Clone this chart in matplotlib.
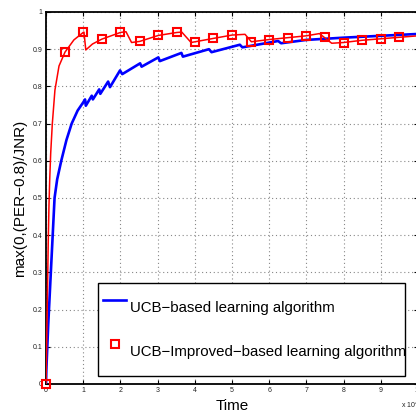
import matplotlib
matplotlib.use("Agg")
import matplotlib.pyplot as plt

plt.rcParams['font.family'] = ['Liberation Sans', 'DejaVu Sans']

# ---- data ----
blue_x = [0, 0.01, 0.035, 0.06, 0.08, 0.13, 0.18, 0.23, 0.3, 0.41, 0.55, 0.69, 0.85,
          1.0, 1.05, 1.07, 1.23, 1.26, 1.43, 1.46, 1.67, 1.72, 1.99, 2.05, 2.53, 2.57,
          3.02, 3.06, 3.64, 3.68, 4.38, 4.45, 5.21, 5.28, 6.24, 6.32, 7.0, 8.0, 9.0, 10.0]
blue_y = [0, 0.04, 0.1, 0.16, 0.2, 0.3, 0.4, 0.5, 0.55, 0.6, 0.656, 0.70, 0.735,
          0.757, 0.765, 0.748, 0.775, 0.765, 0.792, 0.78, 0.813, 0.798, 0.843, 0.833, 0.862, 0.853,
          0.878, 0.868, 0.890, 0.880, 0.900, 0.892, 0.912, 0.905, 0.922, 0.916, 0.925, 0.931, 0.936, 0.941]

red_x = [0, 0.01, 0.02, 0.04, 0.06, 0.08, 0.1, 0.126, 0.17, 0.24, 0.35, 0.51, 0.75, 1.0, 1.02,
         1.07, 1.25, 1.5, 2.0, 2.15, 2.3, 2.52, 3.02, 3.52, 3.65, 3.9, 4.01, 4.5, 5.0, 5.35,
         5.52, 6.0, 6.5, 7.0, 7.35, 7.68, 8.0, 8.5, 9.0, 9.5, 10.0]
red_y = [0, 0.05, 0.12, 0.25, 0.38, 0.48, 0.55, 0.62, 0.7, 0.79, 0.855, 0.892, 0.925, 0.945, 0.946,
         0.898, 0.914, 0.927, 0.945, 0.947, 0.918, 0.921, 0.937, 0.945, 0.946, 0.918, 0.920, 0.929, 0.938, 0.940,
         0.920, 0.926, 0.931, 0.936, 0.942, 0.916, 0.918, 0.924, 0.928, 0.932, 0.936]

mark_x = [0, 0.51, 1.0, 1.5, 2.0, 2.52, 3.02, 3.52, 4.01, 4.5, 5.0, 5.5, 6.0, 6.5, 7.0, 7.5,
          8.0, 8.5, 9.0, 9.49]
mark_y = [0, 0.892, 0.945, 0.927, 0.945, 0.921, 0.937, 0.945, 0.920, 0.929, 0.938, 0.920,
          0.926, 0.931, 0.936, 0.934, 0.918, 0.924, 0.927, 0.932]

x_ticks = list(range(0, 11))
y_ticks = [0, 0.1, 0.2, 0.3, 0.4, 0.5, 0.6, 0.7, 0.8, 0.9, 1.0]
y_tick_labels = ['0', '0.1', '0.2', '0.3', '0.4', '0.5', '0.6', '0.7', '0.8', '0.9', '1']

label_blue = 'UCB\u2212based learning algorithm'
label_red = 'UCB\u2212Improved\u2212based learning algorithm'

# ---- figure ----
W, H = 416, 412
fig = plt.figure(figsize=(W / 100, H / 100), dpi=100)
ax = fig.add_axes([46 / W, (H - 384) / H, (418 - 46) / W, (384 - 12) / H])

ax.plot(blue_x, blue_y, color='#0000ff', lw=1.9, label=label_blue, zorder=3)
ax.plot(red_x, red_y, color='#ff0000', lw=1.1, zorder=4)
ax.plot(mark_x, mark_y, ls='none', marker='s', ms=6, mfc='none', mec='#ff0000', mew=1.5,
        label=label_red, zorder=5, clip_on=False)

ax.set_xlim(0, 10)
ax.set_ylim(0, 1)
ax.set_xticks(x_ticks)
ax.set_xticklabels([str(t) for t in x_ticks])
ax.set_yticks(y_ticks)
ax.set_yticklabels(y_tick_labels)
ax.tick_params(direction='in', top=True, right=True, labelsize=5, length=3, width=0.8,
               pad=2.5, labelcolor='#222222')
ax.grid(True, ls=(0, (1, 2.5)), color='#888888', lw=0.8)
for s in ax.spines.values():
    s.set_linewidth(1.3)

ax.set_xlabel('Time', fontsize=11, labelpad=3)
ax.set_ylabel('max(0,(PER\u22120.8)/JNR)', fontsize=11, labelpad=4)

fig.text(401 / W, (H - 405) / H, 'x 10$^4$', fontsize=5, ha='left', va='center', color='#222222')

leg = ax.legend(loc='upper left', bbox_to_anchor=(98.3 / W, (H - 283) / H, (405 - 98.3) / W, 0),
                bbox_transform=fig.transFigure, borderaxespad=0, fontsize=10.85, mode='expand',
                frameon=True, fancybox=False, edgecolor='black', framealpha=1,
                borderpad=0.3, handleheight=3.7, labelspacing=0.28, handlelength=1.57,
                handletextpad=0.25)
leg.get_frame().set_linewidth(1.0)

fig.savefig('out.png', dpi=100)
